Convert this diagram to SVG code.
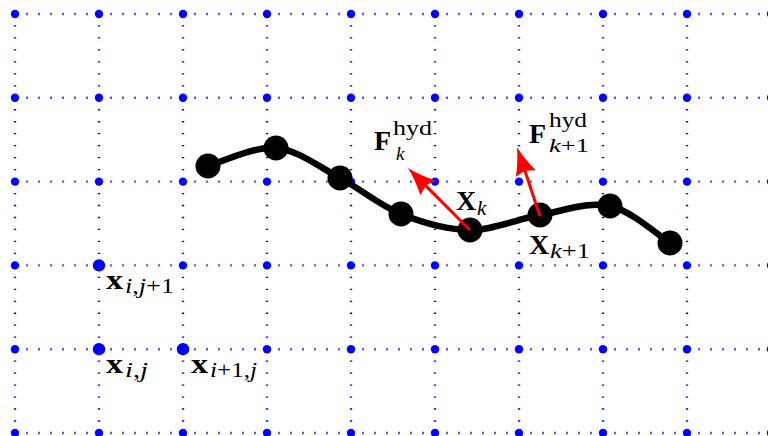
<svg xmlns="http://www.w3.org/2000/svg" width="768" height="436" viewBox="0 0 768 436">
<defs>
<style>
.hl{stroke:#0000ff;stroke-width:2.4;stroke-dasharray:1.3 10.7;fill:none}
.vl{stroke:#0000ff;stroke-width:2.4;stroke-dasharray:1.3 10.67;fill:none}
.gp{fill:#0000ff}
.bead{fill:#000}
.chain{stroke:#000;stroke-width:6.5;fill:none;stroke-linecap:round}
.force{stroke:#ff0000;stroke-width:3;fill:none}
.lbl{font-family:"Liberation Serif","DejaVu Serif",serif;fill:#000}
.big{font-size:28px;font-weight:bold}
.sm{font-size:21px}
.ss{font-size:19px}
.it{font-style:italic}
</style>
<marker id="arr" markerUnits="userSpaceOnUse" viewBox="-14 -12 32 24" markerWidth="32" markerHeight="24" refX="0" refY="0" orient="auto">
<path d="M15,0 Q2,-3 -13,-10.5 L-10,0 L-13,10.5 Q2,3 15,0 Z" fill="#ff0000"/>
</marker>
</defs>
<g id="grid">
<line class="hl" x1="14.35" y1="14" x2="772" y2="14"/>
<line class="hl" x1="14.35" y1="97.8" x2="772" y2="97.8"/>
<line class="hl" x1="14.35" y1="181.6" x2="772" y2="181.6"/>
<line class="hl" x1="14.35" y1="265.4" x2="772" y2="265.4"/>
<line class="hl" x1="14.35" y1="349.2" x2="772" y2="349.2"/>
<line class="hl" x1="14.35" y1="433" x2="772" y2="433"/>
<line class="vl" x1="15" y1="13.35" x2="15" y2="436"/>
<line class="vl" x1="99" y1="13.35" x2="99" y2="436"/>
<line class="vl" x1="183" y1="13.35" x2="183" y2="436"/>
<line class="vl" x1="267" y1="13.35" x2="267" y2="436"/>
<line class="vl" x1="351" y1="13.35" x2="351" y2="436"/>
<line class="vl" x1="435" y1="13.35" x2="435" y2="436"/>
<line class="vl" x1="519" y1="13.35" x2="519" y2="436"/>
<line class="vl" x1="603" y1="13.35" x2="603" y2="436"/>
<line class="vl" x1="687" y1="13.35" x2="687" y2="436"/>
<line class="vl" x1="771" y1="13.35" x2="771" y2="436"/>
</g>
<g id="grid-points">
<g class="gp">
<circle cx="15" cy="14" r="4.2"/><circle cx="99" cy="14" r="4.2"/><circle cx="183" cy="14" r="4.2"/><circle cx="267" cy="14" r="4.2"/><circle cx="351" cy="14" r="4.2"/><circle cx="435" cy="14" r="4.2"/><circle cx="519" cy="14" r="4.2"/><circle cx="603" cy="14" r="4.2"/><circle cx="687" cy="14" r="4.2"/><circle cx="771" cy="14" r="4.2"/>
<circle cx="15" cy="97.8" r="4.2"/><circle cx="99" cy="97.8" r="4.2"/><circle cx="183" cy="97.8" r="4.2"/><circle cx="267" cy="97.8" r="4.2"/><circle cx="351" cy="97.8" r="4.2"/><circle cx="435" cy="97.8" r="4.2"/><circle cx="519" cy="97.8" r="4.2"/><circle cx="603" cy="97.8" r="4.2"/><circle cx="687" cy="97.8" r="4.2"/><circle cx="771" cy="97.8" r="4.2"/>
<circle cx="15" cy="181.6" r="4.2"/><circle cx="99" cy="181.6" r="4.2"/><circle cx="183" cy="181.6" r="4.2"/><circle cx="267" cy="181.6" r="4.2"/><circle cx="351" cy="181.6" r="4.2"/><circle cx="435" cy="181.6" r="4.2"/><circle cx="519" cy="181.6" r="4.2"/><circle cx="603" cy="181.6" r="4.2"/><circle cx="687" cy="181.6" r="4.2"/><circle cx="771" cy="181.6" r="4.2"/>
<circle cx="15" cy="265.4" r="4.2"/><circle cx="183" cy="265.4" r="4.2"/><circle cx="267" cy="265.4" r="4.2"/><circle cx="351" cy="265.4" r="4.2"/><circle cx="435" cy="265.4" r="4.2"/><circle cx="519" cy="265.4" r="4.2"/><circle cx="603" cy="265.4" r="4.2"/><circle cx="687" cy="265.4" r="4.2"/><circle cx="771" cy="265.4" r="4.2"/>
<circle cx="15" cy="349.2" r="4.2"/><circle cx="267" cy="349.2" r="4.2"/><circle cx="351" cy="349.2" r="4.2"/><circle cx="435" cy="349.2" r="4.2"/><circle cx="519" cy="349.2" r="4.2"/><circle cx="603" cy="349.2" r="4.2"/><circle cx="687" cy="349.2" r="4.2"/><circle cx="771" cy="349.2" r="4.2"/>
<circle cx="15" cy="433" r="4.2"/><circle cx="99" cy="433" r="4.2"/><circle cx="183" cy="433" r="4.2"/><circle cx="267" cy="433" r="4.2"/><circle cx="351" cy="433" r="4.2"/><circle cx="435" cy="433" r="4.2"/><circle cx="519" cy="433" r="4.2"/><circle cx="603" cy="433" r="4.2"/><circle cx="687" cy="433" r="4.2"/><circle cx="771" cy="433" r="4.2"/>
</g>
</g>
<g id="x-i-j1"><circle class="gp" cx="99" cy="265.4" r="6.2"/>
<text class="lbl" y="289"><tspan class="big" x="106" textLength="17" lengthAdjust="spacingAndGlyphs">x</tspan><tspan class="sm" x="125" y="293" textLength="49" lengthAdjust="spacingAndGlyphs"><tspan class="it">i</tspan>,<tspan class="it">j</tspan>+1</tspan></text></g>
<g id="x-i-j"><circle class="gp" cx="99" cy="349.2" r="6.2"/>
<text class="lbl" y="373"><tspan class="big" x="106" textLength="17" lengthAdjust="spacingAndGlyphs">x</tspan><tspan class="sm" x="125" y="377" textLength="23" lengthAdjust="spacingAndGlyphs"><tspan class="it">i</tspan>,<tspan class="it">j</tspan></tspan></text></g>
<g id="x-i1-j"><circle class="gp" cx="183" cy="349.2" r="6.2"/>
<text class="lbl" y="373"><tspan class="big" x="191" textLength="17" lengthAdjust="spacingAndGlyphs">x</tspan><tspan class="sm" x="210" y="377" textLength="47" lengthAdjust="spacingAndGlyphs"><tspan class="it">i</tspan>+1,<tspan class="it">j</tspan></tspan></text></g>
<g id="chain">
<path class="chain" d="M208,166 C219.3,163 254,146 276,148 C298,150 319.2,167 340,178 C360.8,189 379.3,205.3 401,214 C422.7,222.7 446.8,229.8 470,230 C493.2,230.2 516.7,219 540,215 C563.3,211 588.3,201.3 610,206 C631.7,210.7 660,236.8 670,243"/>
</g>
<g id="bead-1"><circle class="bead" cx="208" cy="166" r="12.5"/></g>
<g id="bead-2"><circle class="bead" cx="276" cy="148" r="12.5"/></g>
<g id="bead-3"><circle class="bead" cx="340" cy="178" r="12.5"/></g>
<g id="bead-4"><circle class="bead" cx="401" cy="214" r="12.5"/></g>
<g id="bead-k"><circle class="bead" cx="470" cy="230" r="12.5"/>
<text class="lbl" y="210"><tspan class="big" x="456">X</tspan><tspan class="sm it" x="477" y="215">k</tspan></text></g>
<g id="bead-k1"><circle class="bead" cx="540" cy="215" r="12.5"/>
<text class="lbl" y="254"><tspan class="big" x="529">X</tspan><tspan class="sm" x="550" y="258" textLength="40" lengthAdjust="spacingAndGlyphs"><tspan class="it">k</tspan>+1</tspan></text></g>
<g id="bead-7"><circle class="bead" cx="610" cy="206" r="12.5"/></g>
<g id="bead-8"><circle class="bead" cx="670" cy="243" r="12.5"/></g>
<g id="connectors">
<line class="force" x1="470" y1="230" x2="418.6" y2="178.6" marker-end="url(#arr)"/>
<line class="force" x1="540" y1="216" x2="521.7" y2="161.2" marker-end="url(#arr)"/>
</g>
<g id="force-labels">
<text class="lbl" y="150"><tspan class="big" x="374">F</tspan><tspan class="sm" x="393" y="135" textLength="39" lengthAdjust="spacingAndGlyphs">hyd</tspan><tspan class="ss it" x="396" y="160">k</tspan></text>
<text class="lbl" y="143"><tspan class="big" x="529">F</tspan><tspan class="sm" x="549" y="127" textLength="38" lengthAdjust="spacingAndGlyphs">hyd</tspan><tspan class="ss" x="549" y="152" textLength="40" lengthAdjust="spacingAndGlyphs"><tspan class="it">k</tspan>+1</tspan></text>
</g>
</svg>
